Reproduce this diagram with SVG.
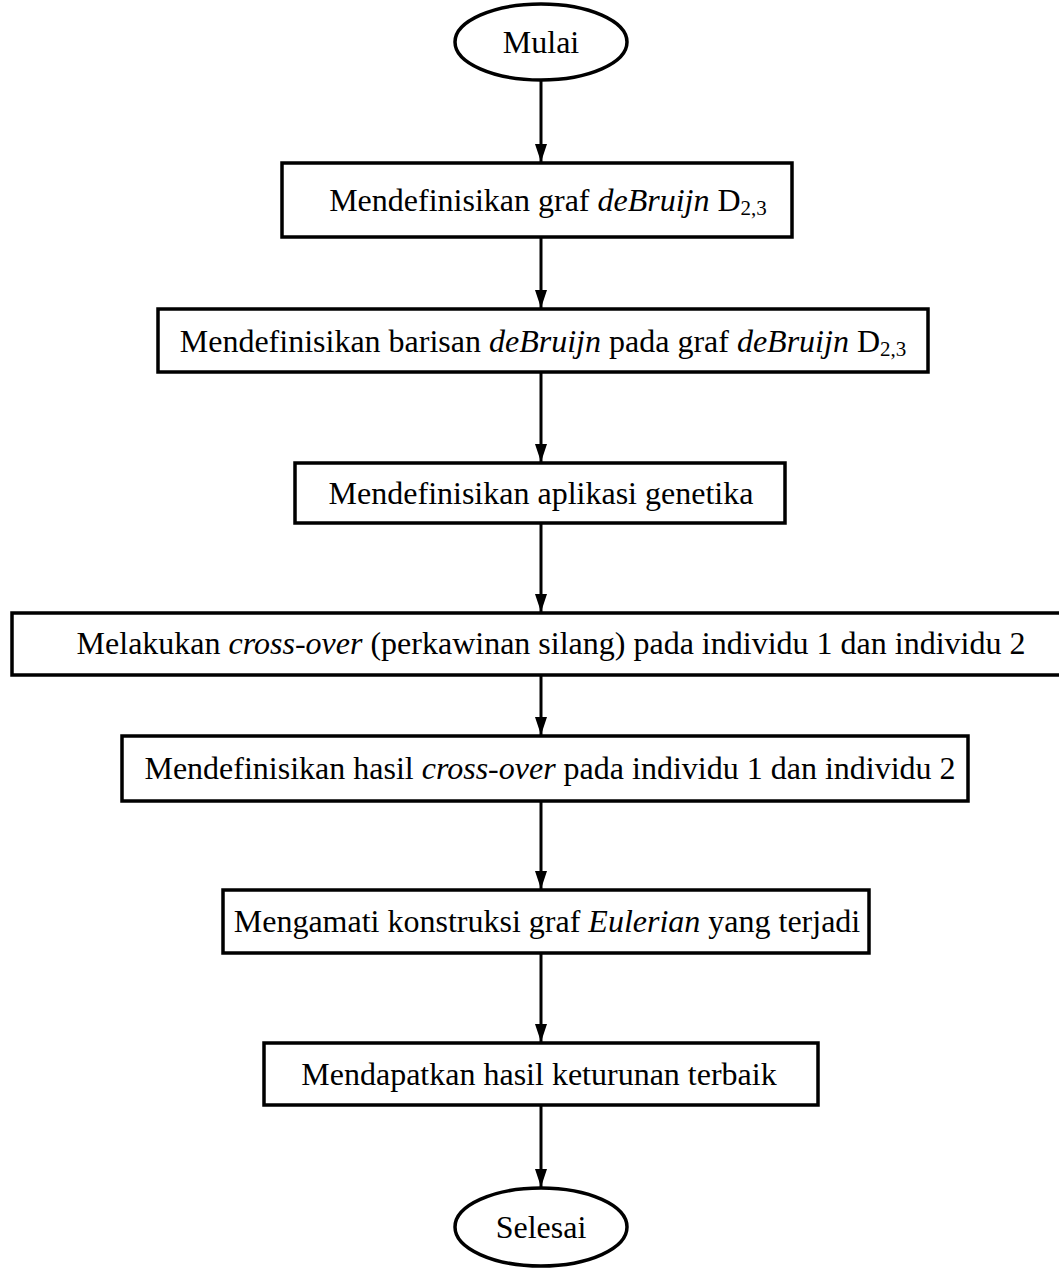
<svg xmlns="http://www.w3.org/2000/svg" width="1059" height="1268" viewBox="0 0 1059 1268">
<defs>
<style>
.n{fill:#fff;stroke:#000;stroke-width:3.5}
.t{font-family:"Liberation Serif","Times New Roman",serif;font-size:32px;fill:#000;text-anchor:middle}
.s{font-size:21px}
.c{stroke:#000;stroke-width:3;fill:none;marker-end:url(#ah)}
</style>
<marker id="ah" viewBox="0 0 18 12" refX="18" refY="6" markerWidth="18" markerHeight="12" markerUnits="userSpaceOnUse" orient="auto"><path d="M0,0 L18,6 L0,12 z" fill="#000"/></marker>
</defs>
<rect width="1059" height="1268" fill="#fff"/>
<g id="connectors">
<line class="c" x1="541" y1="80" x2="541" y2="162"/>
<line class="c" x1="541" y1="237" x2="541" y2="308"/>
<line class="c" x1="541" y1="372" x2="541" y2="462"/>
<line class="c" x1="541" y1="523" x2="541" y2="612"/>
<line class="c" x1="541" y1="675" x2="541" y2="735"/>
<line class="c" x1="541" y1="801" x2="541" y2="889"/>
<line class="c" x1="541" y1="953" x2="541" y2="1042"/>
<line class="c" x1="541" y1="1105" x2="541" y2="1187"/>
</g>
<g id="start"><ellipse class="n" cx="541" cy="42" rx="86" ry="38"/><text class="t" x="541" y="53">Mulai</text></g>
<g id="step1"><rect class="n" x="282" y="163" width="510" height="74"/><text class="t" x="548" y="211">Mendefinisikan graf <tspan font-style="italic">deBruijn</tspan> D<tspan class="s" dy="4">2,3</tspan></text></g>
<g id="step2"><rect class="n" x="158" y="309" width="770" height="63"/><text class="t" x="543" y="352">Mendefinisikan barisan <tspan font-style="italic">deBruijn</tspan> pada graf <tspan font-style="italic">deBruijn</tspan> D<tspan class="s" dy="4">2,3</tspan></text></g>
<g id="step3"><rect class="n" x="295" y="463" width="490" height="60"/><text class="t" x="541" y="504">Mendefinisikan aplikasi genetika</text></g>
<g id="step4"><rect class="n" x="12" y="613" width="1050" height="62"/><text class="t" x="551" y="654">Melakukan <tspan font-style="italic">cross-over</tspan> (perkawinan silang) pada individu 1 dan individu 2</text></g>
<g id="step5"><rect class="n" x="122" y="736" width="846" height="65"/><text class="t" x="550" y="779">Mendefinisikan hasil <tspan font-style="italic">cross-over</tspan> pada individu 1 dan individu 2</text></g>
<g id="step6"><rect class="n" x="223" y="890" width="646" height="63"/><text class="t" x="547" y="932">Mengamati konstruksi graf <tspan font-style="italic">Eulerian</tspan> yang terjadi</text></g>
<g id="step7"><rect class="n" x="264" y="1043" width="554" height="62"/><text class="t" x="539" y="1085">Mendapatkan hasil keturunan terbaik</text></g>
<g id="end"><ellipse class="n" cx="541" cy="1227" rx="86" ry="39"/><text class="t" x="541" y="1238">Selesai</text></g>
</svg>
